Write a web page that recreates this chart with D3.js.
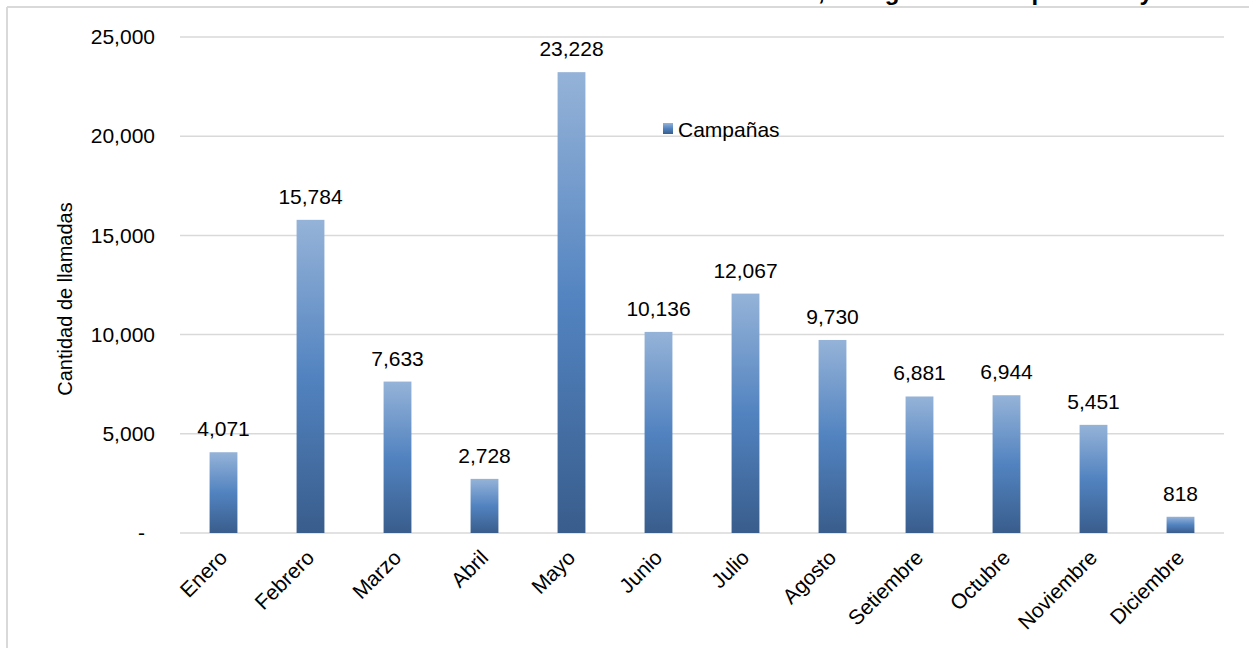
<!DOCTYPE html>
<html>
<head>
<meta charset="utf-8">
<script src="https://cdn.jsdelivr.net/npm/d3@7"></script>
<style>
  html, body { margin: 0; padding: 0; background: #fff; }
  svg { display: block; font-family: Arial, "Liberation Sans", sans-serif; }
</style>
</head>
<body>
<svg id="chart" width="1249" height="648"></svg>
<script>
const months = ["Enero","Febrero","Marzo","Abril","Mayo","Junio","Julio","Agosto","Setiembre","Octubre","Noviembre","Diciembre"];
const campanas = [4071,15784,7633,2728,23228,10136,12067,9730,6881,6944,5451,818];
const yTickValues = [0,5000,10000,15000,20000,25000];
const yTickLabels = ["-","5,000","10,000","15,000","20,000","25,000"];
const seriesName = "Campañas";
const yTitle = "Cantidad de llamadas";
const titlePrefix = "Cantidad de llamadas atendidas";
const titleRest = ", el según mes del períodos y año";

const svg = d3.select("#chart");
const W = 1249, H = 648;
const plot = {left: 180, right: 1224, top: 37, bottom: 533};
const FS = 21;

// gradient
const defs = svg.append("defs");
const grad = defs.append("linearGradient").attr("id","barGrad")
  .attr("x1",0).attr("y1",0).attr("x2",0).attr("y2",1);
grad.append("stop").attr("offset","0%").attr("stop-color","#95b3d8");
grad.append("stop").attr("offset","50%").attr("stop-color","#5283c0");
grad.append("stop").attr("offset","100%").attr("stop-color","#395d8c");

// frame
svg.append("line").attr("x1",7).attr("x2",W).attr("y1",7).attr("y2",7)
  .attr("stroke","#d9d9d9").attr("stroke-width",2);
svg.append("line").attr("x1",7).attr("x2",7).attr("y1",7).attr("y2",H)
  .attr("stroke","#d9d9d9").attr("stroke-width",2);

// title (clipped at top, as in the reference)
const title = svg.append("text").attr("y",0).attr("font-weight","bold")
  .attr("font-size",24).attr("fill","#000");
const tp1 = title.append("tspan").text(titlePrefix);
title.append("tspan").text(titleRest);
const pw = tp1.node().getComputedTextLength();
title.attr("x", 818 - pw);

const x = d3.scaleBand().domain(months).range([plot.left, plot.right])
  .paddingInner(0.68).paddingOuter(0.34);
const y = d3.scaleLinear().domain([0,25000]).range([plot.bottom, plot.top]);

// gridlines
svg.append("g").selectAll("line").data(yTickValues).join("line")
  .attr("x1",plot.left).attr("x2",plot.right)
  .attr("y1",d=>y(d)).attr("y2",d=>y(d))
  .attr("stroke","#d9d9d9").attr("stroke-width",1.5);

// y axis labels
const yAxis = d3.axisLeft(y).tickValues(yTickValues)
  .tickFormat((d,i)=>yTickLabels[i]).tickSize(0).tickPadding(0);
const ya = svg.append("g").attr("transform",`translate(155,0)`).call(yAxis);
ya.select(".domain").remove();
ya.selectAll("text").attr("font-size",FS).attr("fill","#000")
  .attr("font-family","Arial, 'Liberation Sans', sans-serif")
  .attr("dx", d => d===0 ? -10 : 0);

// y title
svg.append("text").attr("transform",`translate(72,${(plot.top+plot.bottom)/2+14}) rotate(-90)`)
  .attr("text-anchor","middle").attr("font-size",20).attr("fill","#000").text(yTitle);

// bars
svg.append("g").selectAll("rect").data(campanas).join("rect")
  .attr("x",(d,i)=>x(months[i])).attr("width",x.bandwidth())
  .attr("y",d=>y(d)).attr("height",d=>y(0)-y(d))
  .attr("fill","url(#barGrad)");

// data labels
svg.append("g").selectAll("text").data(campanas).join("text")
  .attr("x",(d,i)=>x(months[i])+x.bandwidth()/2)
  .attr("y",d=>y(d)-16)
  .attr("text-anchor","middle").attr("font-size",FS).attr("fill","#000")
  .text(d=>d3.format(",")(d));

// x axis labels
const xAxis = d3.axisBottom(x).tickSize(0).tickPadding(0);
const xa = svg.append("g").attr("transform",`translate(0,${plot.bottom})`).call(xAxis);
xa.select(".domain").remove();
xa.selectAll("text").attr("font-size",FS).attr("fill","#000")
  .attr("font-family","Arial, 'Liberation Sans', sans-serif")
  .attr("text-anchor","end").attr("dy",null).attr("y",0)
  .attr("transform","translate(5,26) rotate(-45)");

// legend
const lg = svg.append("g");
lg.append("rect").attr("x",663).attr("y",123).attr("width",10).attr("height",11)
  .attr("fill","url(#barGrad)");
lg.append("text").attr("x",678).attr("y",137).attr("font-size",FS).attr("fill","#000").text(seriesName);
</script>
</body>
</html>
